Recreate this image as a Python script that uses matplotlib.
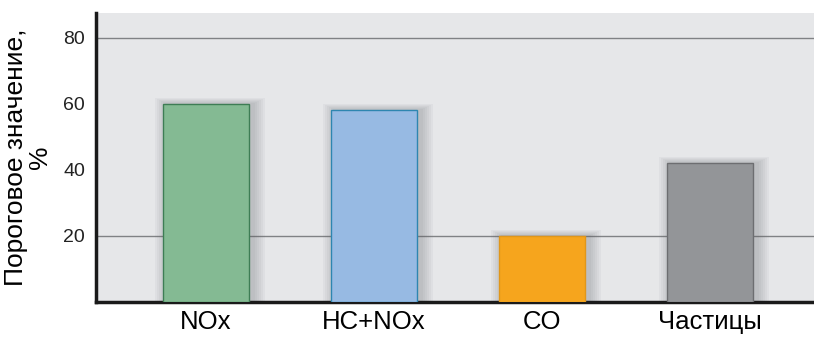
import numpy as np
import matplotlib
matplotlib.use("Agg")
import matplotlib.pyplot as plt
from matplotlib.font_manager import FontProperties

categories = ["NOx", "HC+NOx", "CO", "Частицы"]
values = [60, 58, 20, 42]
bar_colors = ["#84BA93", "#97BAE3", "#F6A51D", "#939598"]
edge_colors = ["#3E7D55", "#2E86B0", "#E0961A", "#6D6E71"]
yticks = [20, 40, 60, 80]

plt.rcParams['font.family'] = ['Liberation Sans', 'DejaVu Sans']

fig = plt.figure(figsize=(8.14, 3.38), dpi=100)
ax = fig.add_axes([0.118, 0.107, 0.882, 0.855])
ax.set_facecolor("#E6E7E9")

x = np.arange(len(categories))
width = 0.512

# soft shadow behind each bar
for i in range(6):
    grow = 0.012 * (i + 1)
    ax.bar(x + 0.025, np.array(values) + grow * 25, width=width + grow * 2,
           color="#5a5c60", alpha=0.05, linewidth=0, zorder=2)

ax.bar(x, values, width=width, color=bar_colors, edgecolor=edge_colors,
       linewidth=1.0, zorder=3)

for gy in [20, 80]:
    ax.axhline(gy, color="#808285", linewidth=1.0, zorder=1)

ax.set_xlim(-0.655, 3.62)
ax.set_ylim(0, 87.5)
ax.set_yticks(yticks)
narrow = FontProperties(family=['Liberation Sans Narrow', 'Liberation Sans'], size=14)
ax.set_yticklabels([str(t) for t in yticks], fontproperties=narrow, color="#222222")
ax.set_xticks(x)
ax.set_xticklabels(categories, fontsize=18.5)
ax.tick_params(axis='both', length=0)
ax.tick_params(axis='y', pad=8)
ax.tick_params(axis='x', pad=6)

ax.set_ylabel("Пороговое значение,\n%", fontsize=19, linespacing=1.0, labelpad=8)

for s in ["top", "right"]:
    ax.spines[s].set_visible(False)
for s in ["left", "bottom"]:
    ax.spines[s].set_linewidth(2.5)
    ax.spines[s].set_color("#1a1a1a")

fig.savefig("out.png", dpi=100)
